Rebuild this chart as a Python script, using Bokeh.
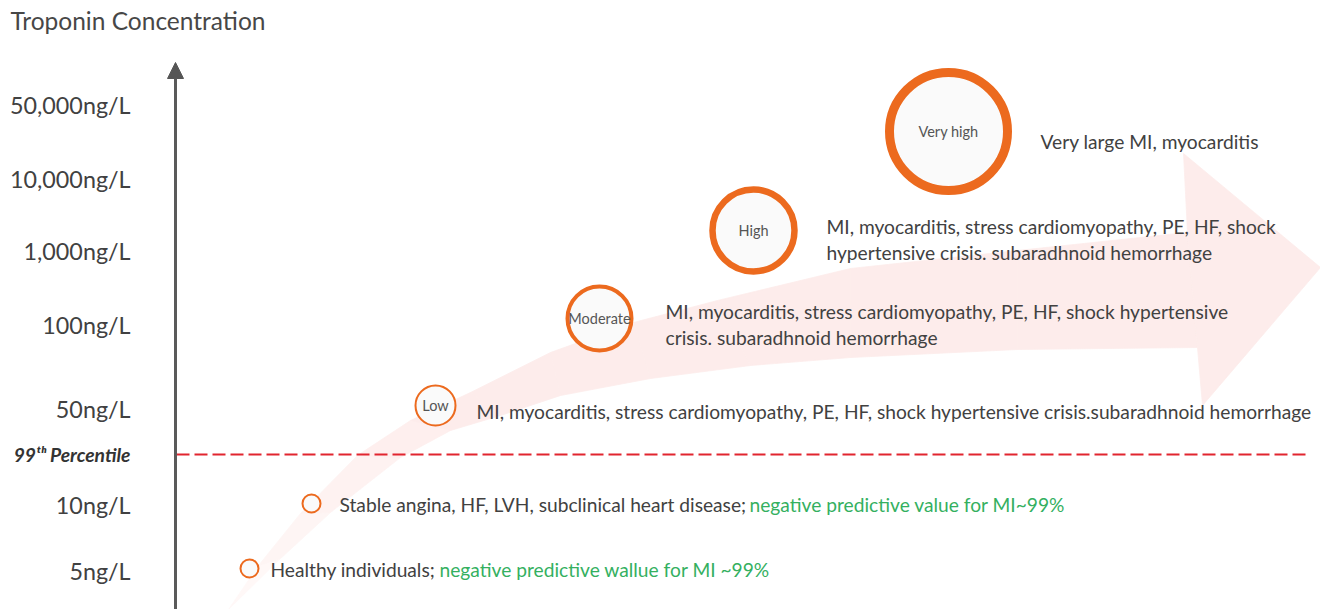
from bokeh.plotting import figure
from bokeh.models import Range1d, FixedTicker, Label, Arrow, NormalHead, ColumnDataSource, LinearAxis
from bokeh.core.properties import value
from bokeh.embed import file_html
from bokeh.resources import INLINE

FONT = "Lato"
TEXT_COLOR = "#414141"
ORANGE = "#ec6a1e"
GREEN = "#34b05f"

# ---- y-axis levels (troponin concentration) ----
level_labels = ["5ng/L", "10ng/L", "50ng/L", "100ng/L", "1,000ng/L", "10,000ng/L", "50,000ng/L"]
level_pos = [39, 105, 201, 285, 359, 431, 505]
percentile_label = "99\u1d57\u02b0 Percentile"
percentile_pos = 155

# ---- circles (troponin categories) ----
circle_labels = ["", "", "Low", "Moderate", "High", "Very high"]
circle_x = [249, 311, 435, 599, 753, 948]
circle_y = [41, 106, 204, 291, 379, 478]
circle_r = [9, 9, 20, 32, 41, 59]
circle_lw = [2, 2, 2, 4, 6.5, 9]

# ---- descriptions ----
desc_text = [
    "Healthy individuals;",
    "Stable angina, HF, LVH, subclinical heart disease;",
    "MI, myocarditis, stress cardiomyopathy, PE, HF, shock hypertensive crisis.subaradhnoid hemorrhage",
    "MI, myocarditis, stress cardiomyopathy, PE, HF, shock hypertensive\ncrisis. subaradhnoid hemorrhage",
    "MI, myocarditis, stress cardiomyopathy, PE, HF, shock\nhypertensive crisis. subaradhnoid hemorrhage",
    "Very large MI, myocarditis",
]
desc_x = [270, 339, 476, 665, 826, 1040]
desc_y = [40, 105, 198, 285, 370, 468]

green_text = ["negative predictive wallue for MI ~99%", "negative predictive value for MI~99%"]
green_x = [439, 749]
green_y = [40, 105]

# ---- background trend arrow outline (shaft stations + head) ----
shaft_upper_x = [228, 258, 300, 357, 410, 470, 550, 633, 717, 850, 1017, 1187]
shaft_upper_y = [0, 44, 96, 154, 189, 217, 257, 287, 309, 341, 359, 377]
shaft_lower_x = [228, 280, 330, 400, 450, 500, 560, 650, 750, 850, 1017, 1197]
shaft_lower_y = [0, 51, 97, 152, 179, 194, 214, 231, 244, 252, 260, 262]
head_x = [1183, 1320, 1202]
head_y = [456, 342, 204]

W, H = 1320, 609
p = figure(width=W, height=H,
           x_range=Range1d(0, W), y_range=Range1d(0, H),
           output_backend="svg", toolbar_location=None,
           x_axis_location=None, y_axis_location=None,
           min_border=0, min_border_left=0, min_border_right=0, min_border_top=0, min_border_bottom=0,
           outline_line_color=None, background_fill_color="white", border_fill_color="white")
p.xgrid.visible = False
p.ygrid.visible = False


def blend(c1, c2, t):
    a = [int(c1[i:i + 2], 16) for i in (1, 3, 5)]
    b = [int(c2[i:i + 2], 16) for i in (1, 3, 5)]
    return "#%02x%02x%02x" % tuple(round(a[k] + (b[k] - a[k]) * t) for k in range(3))


# trend arrow: shaft fades in from the lower-left
seg_xs, seg_ys, seg_cols = [], [], []
n = len(shaft_upper_x)
for i in range(n - 1):
    seg_xs.append([shaft_upper_x[i], shaft_upper_x[i + 1], shaft_lower_x[i + 1], shaft_lower_x[i]])
    seg_ys.append([shaft_upper_y[i], shaft_upper_y[i + 1], shaft_lower_y[i + 1], shaft_lower_y[i]])
    seg_cols.append(blend("#fff8f7", "#fdeceb", min(1.0, i / 4.0)))
seg_xs.append([shaft_upper_x[-1]] + head_x + [shaft_lower_x[-1]])
seg_ys.append([shaft_upper_y[-1]] + head_y + [shaft_lower_y[-1]])
seg_cols.append("#fdeceb")
p.patches(seg_xs, seg_ys, fill_color=seg_cols, line_color=seg_cols, line_width=0.8)

# 99th percentile dashed line
p.line([176, 1310], [percentile_pos, percentile_pos], line_color="#e1252f",
       line_width=1.8, line_dash="13 5")

# y axis drawn at a fixed location inside the frame
yax = LinearAxis(fixed_location=175, bounds=(0, 536))
yax.ticker = FixedTicker(ticks=level_pos)
yax.major_label_overrides = {k: v for k, v in zip(level_pos, level_labels)}
yax.major_label_text_font = FONT
yax.major_label_text_font_size = "23.3px"
yax.major_label_text_color = TEXT_COLOR
yax.major_label_standoff = 45
yax.major_tick_out = 0
yax.major_tick_in = 0
yax.axis_line_color = "#5a5a5a"
yax.axis_line_width = 3
yax.major_tick_line_color = None
yax.minor_tick_line_color = None
p.add_layout(yax, "left")

# second fixed axis just for the 99th percentile mark
pax = LinearAxis(fixed_location=175, bounds=(0, 536))
pax.ticker = FixedTicker(ticks=[percentile_pos])
pax.major_label_overrides = {percentile_pos: percentile_label}
pax.major_label_text_font = FONT
pax.major_label_text_font_size = "19.3px"
pax.major_label_text_font_style = "bold italic"
pax.major_label_text_color = "#333333"
pax.major_label_standoff = 45
pax.major_tick_out = 0
pax.major_tick_in = 0
pax.axis_line_color = None
pax.major_tick_line_color = None
pax.minor_tick_line_color = None
p.add_layout(pax, "left")

# arrow head on top of the axis
p.add_layout(Arrow(end=NormalHead(size=16, fill_color="#555555", line_color="#555555", line_width=1),
                   x_start=175, y_start=520, x_end=175, y_end=547,
                   line_color="#5a5a5a", line_width=3))

# circles
csrc = ColumnDataSource(dict(x=circle_x, y=circle_y, r=circle_r, lw=circle_lw, label=circle_labels))
p.circle(x="x", y="y", radius="r", source=csrc, fill_color="#fafafa",
         line_color=ORANGE, line_width="lw")
p.text(x="x", y="y", text="label", source=csrc, text_align="center", text_baseline="middle",
       text_font=value(FONT), text_font_size="14.5px", text_color="#555555")

# descriptions
dsrc = ColumnDataSource(dict(x=desc_x, y=desc_y, t=desc_text))
p.text(x="x", y="y", text="t", source=dsrc, text_align="left", text_baseline="middle",
       text_font=value(FONT), text_font_size="19.2px", text_color=TEXT_COLOR,
       text_line_height=1.17)
gsrc = ColumnDataSource(dict(x=green_x, y=green_y, t=green_text))
p.text(x="x", y="y", text="t", source=gsrc, text_align="left", text_baseline="middle",
       text_font=value(FONT), text_font_size="19.2px", text_color=GREEN)

# title
p.add_layout(Label(x=10, y=589, text="Troponin Concentration", text_align="left",
                   text_baseline="middle", text_font=FONT, text_font_size="24.5px",
                   text_color="#474747"))

open("out.html", "w").write(file_html(p, INLINE))
